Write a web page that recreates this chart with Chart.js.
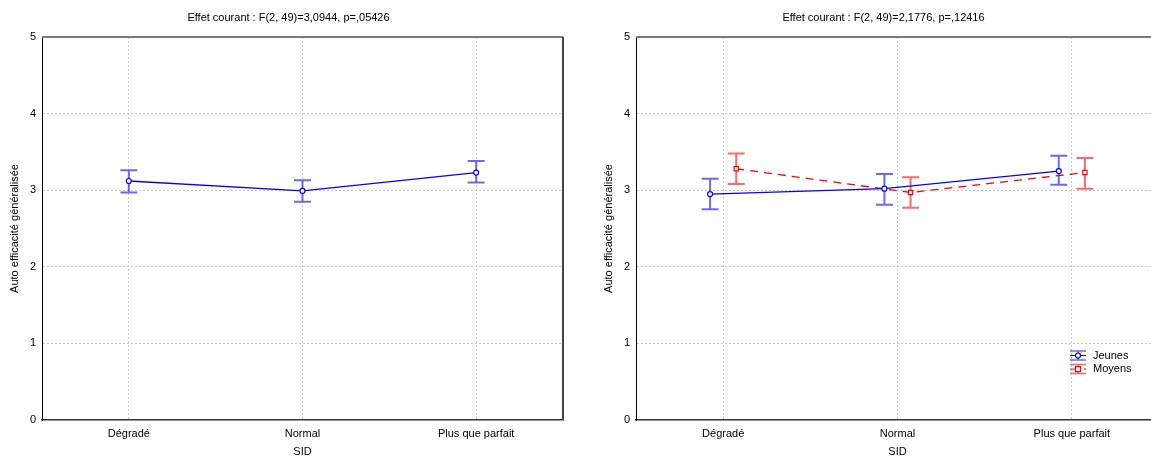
<!DOCTYPE html>
<html>
<head>
<meta charset="utf-8">
<script src="https://cdn.jsdelivr.net/npm/chart.js@4.4.0/dist/chart.umd.min.js"></script>
<style>
  html, body { margin: 0; padding: 0; background: #fff; overflow: hidden; }
  #wrap { position: relative; width: 1151px; height: 459px; overflow: hidden; }
  canvas { position: absolute; top: 0; }
  #chartGauche { left: 0; }
  #chartDroite { left: 594px; }
</style>
</head>
<body>
<div id="wrap">
  <canvas id="chartGauche" width="578" height="459" style="width:578px;height:459px"></canvas>
  <canvas id="chartDroite" width="578" height="459" style="width:578px;height:459px"></canvas>
</div>
<script>
// Data
const categories = ['Dégradé', 'Normal', 'Plus que parfait'];
const yTicks = [0, 1, 2, 3, 4, 5];

// left chart: global effect
const moyGlobal = [3.12, 2.99, 3.23];
const basGlobal = [2.97, 2.85, 3.10];
const hautGlobal = [3.26, 3.13, 3.38];

// right chart: by age group
const moyJeunes = [2.95, 3.02, 3.25];
const basJeunes = [2.75, 2.81, 3.07];
const hautJeunes = [3.15, 3.21, 3.45];

const moyMoyens = [3.28, 2.97, 3.23];
const basMoyens = [3.08, 2.77, 3.02];
const hautMoyens = [3.48, 3.17, 3.42];

const FONT = 'Arial, "Liberation Sans", sans-serif';
const font11 = { family: FONT, size: 11, weight: 'normal' };

// Error bars drawn under the points
const errorBars = {
  id: 'errorBars',
  beforeDatasetsDraw(chart) {
    const ctx = chart.ctx;
    const xs = chart.scales.x, ys = chart.scales.y;
    chart.data.datasets.forEach(ds => {
      if (!ds.bas) return;
      ctx.save();
      ctx.strokeStyle = ds.barColor;
      ctx.lineWidth = 2;
      ds.data.forEach((pt, j) => {
        const x = xs.getPixelForValue(pt.x);
        const y1 = ys.getPixelForValue(ds.bas[j]);
        const y2 = ys.getPixelForValue(ds.haut[j]);
        ctx.beginPath();
        ctx.moveTo(x, y1); ctx.lineTo(x, y2);
        ctx.moveTo(x - 8.5, y1); ctx.lineTo(x + 8.5, y1);
        ctx.moveTo(x - 8.5, y2); ctx.lineTo(x + 8.5, y2);
        ctx.stroke();
      });
      ctx.restore();
    });
  }
};

// top and right frame lines
const frame = {
  id: 'frame',
  afterDraw(chart) {
    const { ctx, chartArea: a } = chart;
    ctx.save();
    ctx.strokeStyle = '#7a7a7a';
    ctx.lineWidth = 2;
    ctx.beginPath();
    ctx.moveTo(a.left, a.top); ctx.lineTo(a.right, a.top);
    ctx.stroke();
    ctx.strokeStyle = '#444';
    ctx.beginPath();
    ctx.moveTo(a.right, a.top); ctx.lineTo(a.right, a.bottom);
    ctx.stroke();
    ctx.restore();
  }
};

// legend of the right chart (small error bar symbols)
const legendBox = {
  id: 'legendBox',
  afterDraw(chart) {
    const { ctx, chartArea: a } = chart;
    const x0 = a.right - 89;
    let y = a.bottom - 64.5;
    chart.data.datasets.forEach(ds => {
      ctx.save();
      // caps
      ctx.strokeStyle = ds.barColor;
      ctx.lineWidth = 1.5;
      ctx.beginPath();
      ctx.moveTo(x0, y - 4.5); ctx.lineTo(x0 + 16, y - 4.5);
      ctx.moveTo(x0, y + 4.5); ctx.lineTo(x0 + 16, y + 4.5);
      ctx.moveTo(x0 + 8, y - 4.5); ctx.lineTo(x0 + 8, y + 4.5);
      ctx.stroke();
      // line
      ctx.strokeStyle = ds.borderColor;
      ctx.lineWidth = 1;
      ctx.setLineDash(ds.borderDash || []);
      ctx.beginPath();
      ctx.moveTo(x0, y); ctx.lineTo(x0 + 16, y);
      ctx.stroke();
      ctx.setLineDash([]);
      // marker
      ctx.fillStyle = '#fff';
      ctx.lineWidth = 1.2;
      ctx.beginPath();
      if (ds.pointStyle === 'rect') {
        ctx.rect(x0 + 5.5, y - 2.5, 5, 5);
      } else {
        ctx.arc(x0 + 8, y, 2.5, 0, Math.PI * 2);
      }
      ctx.fill();
      ctx.stroke();
      // label
      ctx.fillStyle = '#000';
      ctx.font = '11px ' + FONT;
      ctx.textBaseline = 'middle';
      ctx.textAlign = 'left';
      ctx.fillText(ds.label, x0 + 23, y);
      ctx.restore();
      y += 13.6;
    });
  }
};

function points(values, shift) {
  return values.map((v, i) => ({ x: i + shift, y: v }));
}

function buildOptions(titre) {
  return {
    responsive: false,
    animation: false,
    layout: { padding: { left: 14, right: 15, top: 0, bottom: 0 } },
    plugins: {
      legend: { display: false },
      tooltip: { enabled: false },
      title: {
        display: true,
        text: titre,
        color: '#000',
        font: font11,
        padding: { top: 11, bottom: 12.8 }
      }
    },
    scales: {
      x: {
        type: 'linear',
        min: -0.5,
        max: 2.5,
        afterBuildTicks: s => { s.ticks = categories.map((c, i) => ({ value: i })); },
        afterFit: s => { s.height = 39; },
        ticks: {
          callback: v => categories[v],
          autoSkip: false,
          maxRotation: 0,
          padding: 7,
          color: '#000',
          font: font11
        },
        grid: { drawTicks: false, color: '#c8c8c8', lineWidth: 1 },
        border: { color: '#333', width: 1.5, dash: [2, 2] },
        title: { display: true, text: 'SID', color: '#000', font: font11, padding: { top: 0, bottom: 0 } }
      },
      y: {
        min: 0,
        max: 5,
        afterBuildTicks: s => { s.ticks = yTicks.map(v => ({ value: v })); },
        afterFit: s => { s.width = 28; },
        ticks: { padding: 6, color: '#000', font: font11 },
        grid: {
          drawTicks: false,
          lineWidth: 1,
          color: c => (c.tick && (c.tick.value === 0 || c.tick.value === 5)) ? 'rgba(0,0,0,0)' : '#c8c8c8'
        },
        border: { color: '#000', width: 1, dash: [2, 2] },
        title: {
          display: true,
          text: 'Auto efficacité généralisée',
          color: '#000',
          font: font11,
          padding: { top: -6, bottom: 0 }
        }
      }
    }
  };
}

// Left chart
new Chart(document.getElementById('chartGauche'), {
  type: 'line',
  data: {
    datasets: [{
      label: 'Global',
      data: points(moyGlobal, 0),
      bas: basGlobal,
      haut: hautGlobal,
      barColor: 'rgba(40,40,255,0.7)',
      borderColor: '#0000ff',
      borderWidth: 1.3,
      pointStyle: 'circle',
      pointRadius: 2.5,
      pointBorderWidth: 1.2,
      pointBackgroundColor: '#fff',
      pointBorderColor: '#0000ff',
      tension: 0
    }]
  },
  options: buildOptions('Effet courant : F(2, 49)=3,0944, p=,05426'),
  plugins: [errorBars, frame]
});

// Right chart
const optDroite = buildOptions('Effet courant : F(2, 49)=2,1776, p=,12416');
optDroite.layout.padding.right = 13;
new Chart(document.getElementById('chartDroite'), {
  type: 'line',
  data: {
    datasets: [{
      label: 'Jeunes',
      data: points(moyJeunes, -0.075),
      bas: basJeunes,
      haut: hautJeunes,
      barColor: 'rgba(40,40,255,0.7)',
      borderColor: '#0000ff',
      borderWidth: 1.3,
      pointStyle: 'circle',
      pointRadius: 2.5,
      pointBorderWidth: 1.2,
      pointBackgroundColor: '#fff',
      pointBorderColor: '#0000ff',
      tension: 0
    }, {
      label: 'Moyens',
      data: points(moyMoyens, 0.075),
      bas: basMoyens,
      haut: hautMoyens,
      barColor: 'rgba(255,40,40,0.7)',
      borderColor: '#ff0000',
      borderWidth: 1.3,
      borderDash: [8, 6],
      pointStyle: 'rect',
      pointRadius: 3,
      pointBorderWidth: 1.2,
      pointBackgroundColor: '#fff',
      pointBorderColor: '#ff0000',
      tension: 0
    }]
  },
  options: optDroite,
  plugins: [errorBars, frame, legendBox]
});
</script>
</body>
</html>
